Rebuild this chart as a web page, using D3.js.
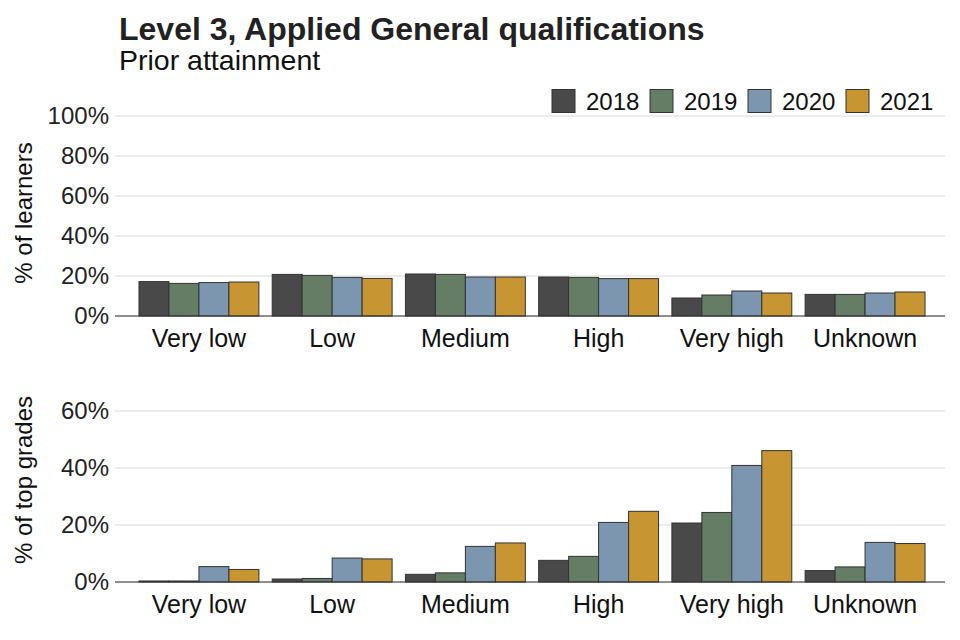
<!DOCTYPE html>
<html lang="en">
<head>
  <meta charset="UTF-8">
  <title>Level 3, Applied General qualifications</title>
  <style>
    body { margin: 0; background: #fff; }
    svg { font-family: "Liberation Sans", Arial, sans-serif; }
  </style>
</head>
<body>
  <script src="https://d3js.org/d3.v7.min.js"></script>
  <script>
    const categories = ["Very low", "Low", "Medium", "High", "Very high", "Unknown"];
    const years = ["2018", "2019", "2020", "2021"];
    const colours = ["#494949", "#647d64", "#7c96af", "#c79532"];

    // % of learners, one array per year
    const learners = {
      "2018": [17.2, 20.8, 21.0, 19.5, 9.0, 10.8],
      "2019": [16.3, 20.3, 20.8, 19.3, 10.5, 10.8],
      "2020": [16.7, 19.3, 19.5, 18.7, 12.5, 11.5],
      "2021": [17.0, 18.8, 19.5, 18.7, 11.5, 12.0]
    };
    // % of top grades
    const topGrades = {
      "2018": [0.35, 1.05, 2.7, 7.6, 20.7, 4.0],
      "2019": [0.35, 1.25, 3.2, 9.0, 24.4, 5.3],
      "2020": [5.4, 8.4, 12.5, 20.9, 40.9, 13.9],
      "2021": [4.4, 8.1, 13.7, 24.8, 46.1, 13.5]
    };
    const learnerTicks = [0, 20, 40, 60, 80, 100];
    const gradeTicks = [0, 20, 40, 60];

    const width = 960, height = 640;
    const left = 119, right = 945;

    const svg = d3.select("body").append("svg")
      .attr("width", width)
      .attr("height", height);

    svg.append("text")
      .attr("x", 119).attr("y", 40)
      .attr("font-size", 32).attr("font-weight", "bold")
      .attr("fill", "#222")
      .text("Level 3, Applied General qualifications");
    svg.append("text")
      .attr("x", 119).attr("y", 70)
      .attr("font-size", 28.5)
      .attr("fill", "#111")
      .text("Prior attainment");

    // discrete scale with ggplot style 0.6 expansion either side
    const x = d3.scaleLinear().domain([0.4, categories.length + 0.6]).range([left, right]);
    const step = x(2) - x(1);
    const barW = step * 0.9 / years.length;

    function panel(data, ticks, domain, top, bottom, titleY, title) {
      const y = d3.scaleLinear().domain(domain).range([bottom, top]);
      const g = svg.append("g");

      g.selectAll(".grid").data(ticks).enter().append("line")
        .attr("x1", left - 4).attr("x2", right)
        .attr("y1", d => y(d)).attr("y2", d => y(d))
        .attr("stroke", "#d9d9d9").attr("stroke-width", 1);

      g.selectAll(".tick").data(ticks).enter().append("text")
        .attr("x", 109).attr("y", d => y(d) + 8)
        .attr("text-anchor", "end").attr("font-size", 24)
        .attr("fill", "#222")
        .text(d => d + "%");

      years.forEach((yr, j) => {
        g.selectAll(".bar" + yr).data(data[yr]).enter().append("rect")
          .attr("x", (d, i) => x(i + 1) - step * 0.45 + j * barW)
          .attr("width", barW)
          .attr("y", d => y(d))
          .attr("height", d => y(0) - y(d))
          .attr("fill", colours[j])
          .attr("stroke", "#333").attr("stroke-width", 1);
      });

      g.append("line")
        .attr("x1", left - 4).attr("x2", right)
        .attr("y1", y(0)).attr("y2", y(0))
        .attr("stroke", "#333").attr("stroke-width", 1);

      g.selectAll(".cat").data(categories).enter().append("text")
        .attr("x", (d, i) => x(i + 1)).attr("y", y(0) + 31)
        .attr("text-anchor", "middle").attr("font-size", 25)
        .attr("fill", "#111")
        .text(d => d);

      g.append("text")
        .attr("transform", `translate(32,${titleY}) rotate(-90)`)
        .attr("text-anchor", "middle").attr("font-size", 24)
        .attr("fill", "#111")
        .text(title);
    }

    panel(learners, learnerTicks, [0, 100], 116, 316, 213, "% of learners");
    panel(topGrades, gradeTicks, [0, 60], 411, 582, 480, "% of top grades");

    // legend
    const legend = svg.append("g");
    years.forEach((yr, j) => {
      legend.append("rect")
        .attr("x", 552 + j * 98).attr("y", 89.5)
        .attr("width", 23).attr("height", 23)
        .attr("fill", colours[j])
        .attr("stroke", "#333").attr("stroke-width", 1);
      legend.append("text")
        .attr("x", 586 + j * 98).attr("y", 110)
        .attr("font-size", 24).attr("fill", "#111")
        .text(yr);
    });
  </script>
</body>
</html>
